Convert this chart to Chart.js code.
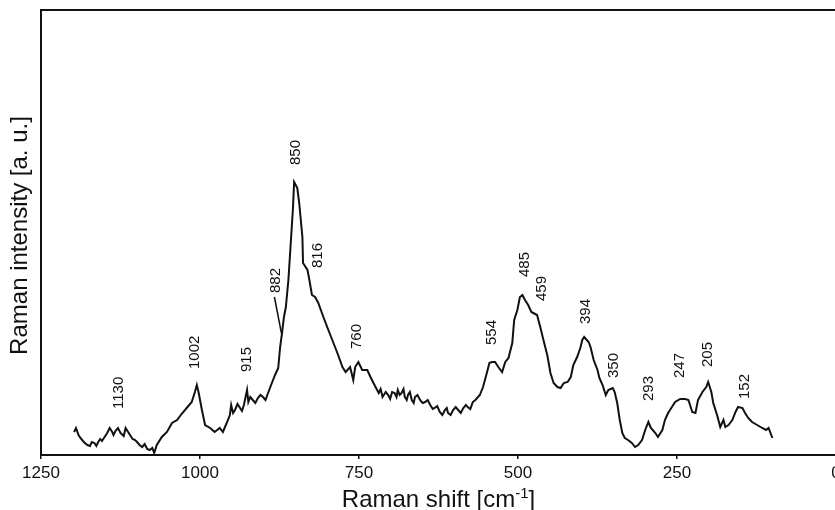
<!DOCTYPE html>
<html>
<head>
<meta charset="utf-8">
<script src="https://cdn.jsdelivr.net/npm/chart.js@4.4.1/dist/chart.umd.min.js"></script>
<style>
    html, body { margin: 0; padding: 0; background: #fff; overflow: hidden; }
    #wrap { position: relative; width: 845px; height: 510px; }
</style>
</head>
<body>
<div id="wrap"><canvas id="chart"></canvas></div>
<script>
// Raman spectrum, shift in cm-1 (high to low) and intensity in arbitrary units
const ramanShift = [
    1198, 1195, 1191, 1188, 1184, 1181, 1177, 1173, 1170, 1166, 1163, 1160, 1157, 1154, 1150, 1146,
    1142, 1138, 1136, 1133, 1129, 1125, 1120, 1117, 1114, 1110, 1106, 1102, 1099, 1095, 1091, 1087,
    1083, 1079, 1075, 1072, 1068, 1060, 1052, 1044, 1036, 1029, 1021, 1013, 1008, 1005, 1002, 997,
    992, 984, 977, 969, 964, 958, 953, 951, 948, 945, 941, 937, 934, 931, 926, 924,
    921, 917, 913, 909, 905, 901, 897, 893, 887, 882, 877, 874, 871, 868, 865, 861,
    858, 854, 852, 847, 844, 839, 838, 831, 828, 824, 819, 814, 806, 800, 792, 784,
    776, 771, 764, 759, 756, 751, 745, 737, 732, 724, 719, 716, 713, 708, 704, 701,
    698, 694, 691, 689, 686, 683, 680, 678, 675, 673, 670, 667, 664, 662, 658, 654,
    650, 646, 642, 638, 634, 631, 627, 623, 619, 615, 612, 610, 606, 602, 598, 594,
    590, 586, 582, 579, 575, 571, 567, 560, 555, 549, 545, 541, 536, 531, 525, 520,
    515, 509, 506, 501, 497, 493, 489, 484, 479, 476, 470, 465, 460, 454, 449, 444,
    438, 433, 428, 422, 417, 413, 407, 402, 399, 396, 389, 386, 381, 375, 372, 367,
    362, 358, 351, 348, 344, 340, 336, 332, 327, 321, 316, 311, 305, 300, 295, 291,
    284, 280, 273, 269, 264, 258, 253, 245, 237, 232, 226, 221, 217, 210, 204, 201,
    196, 193, 187, 182, 177, 174, 169, 163, 158, 154, 147, 143, 138, 132, 124, 116,
    110, 106, 103, 100
];
const intensity = [
    23, 27, 20, 17, 14, 12, 10, 9, 13, 12, 9, 13, 16, 14, 18, 22,
    27, 23, 20, 24, 27, 22, 19, 27, 24, 20, 16, 15, 13, 10, 8, 11,
    6, 5, 7, 2, 10, 18, 23, 32, 35, 41, 47, 53, 63, 70, 62, 45,
    30, 27, 23, 27, 23, 32, 40, 50, 42, 45, 51, 47, 44, 50, 65, 53,
    58, 55, 52, 57, 60, 58, 55, 62, 72, 80, 87, 108, 122, 138, 148, 175,
    205, 245, 273, 267, 252, 218, 192, 185, 175, 160, 158, 152, 138, 128, 115, 102,
    88, 83, 88, 75, 88, 93, 85, 85, 78, 68, 62, 66, 58, 63, 60, 56,
    63, 62, 58, 65, 60, 62, 66, 58, 55, 60, 63, 55, 52, 58, 60, 55,
    52, 53, 55, 50, 46, 47, 49, 43, 40, 45, 47, 42, 40, 45, 48, 45,
    42, 47, 50, 48, 46, 53, 55, 60, 68, 82, 92, 93, 93, 88, 83, 93,
    97, 112, 135, 145, 158, 160, 155, 150, 143, 142, 140, 128, 115, 100, 82, 72,
    68, 67, 72, 73, 78, 90, 98, 107, 115, 118, 113, 108, 95, 85, 77, 70,
    60, 65, 67, 63, 52, 35, 22, 17, 15, 12, 8, 10, 15, 25, 33, 27,
    22, 18, 25, 35, 42, 48, 53, 56, 56, 55, 43, 42, 55, 63, 68, 73,
    63, 52, 40, 28, 35, 28, 30, 35, 43, 48, 47, 42, 37, 33, 30, 27,
    25, 27, 22, 17
];

const xTicks = [1250, 1000, 750, 500, 250, 0];

// assigned band positions written above the peaks
const peakNames = ["1130", "1002", "915", "882", "850", "816", "760", "554",
                   "485", "459", "394", "350", "293", "247", "205", "152"];
// where each rotated label starts, [shift, intensity]; text runs upward
const peakLabelAt = [
    [1127, 46], [1008, 86], [926, 83], [880, 162], [850, 290], [814, 187], [753, 106], [541, 110],
    [489, 178], [463, 154], [394, 131], [349, 77], [295, 54], [245, 77], [201, 88], [143, 56]
];
// short leader from the 882 label to the shoulder
const leader882 = [[883, 158], [872, 122]];

const FONT = '"Liberation Sans", Arial, sans-serif';
const INK = "#111";

const framePlugin = {
    id: "frame",
    afterDatasetsDraw(chart) {
        const { ctx, chartArea: a } = chart;
        ctx.save();
        ctx.strokeStyle = INK;
        ctx.lineWidth = 2;
        ctx.strokeRect(a.left, a.top, a.right - a.left, a.bottom - a.top);
        ctx.restore();
    },
};

const peakLabelPlugin = {
    id: "peakLabels",
    afterDatasetsDraw(chart) {
        const { ctx } = chart;
        const xs = chart.scales.x, ys = chart.scales.y;
        ctx.save();
        ctx.fillStyle = INK;
        ctx.font = "15px " + FONT;
        ctx.textAlign = "left";
        ctx.textBaseline = "middle";
        peakNames.forEach((name, i) => {
            const [s, h] = peakLabelAt[i];
            ctx.save();
            ctx.translate(xs.getPixelForValue(s), ys.getPixelForValue(h));
            ctx.rotate(-Math.PI / 2);
            ctx.fillText(name, 0, 0);
            ctx.restore();
        });
        ctx.strokeStyle = INK;
        ctx.lineWidth = 1.5;
        ctx.beginPath();
        ctx.moveTo(xs.getPixelForValue(leader882[0][0]), ys.getPixelForValue(leader882[0][1]));
        ctx.lineTo(xs.getPixelForValue(leader882[1][0]), ys.getPixelForValue(leader882[1][1]));
        ctx.stroke();
        ctx.restore();
    },
};

const axisTitlePlugin = {
    id: "axisTitles",
    afterDraw(chart) {
        const { ctx, chartArea: a } = chart;
        ctx.save();
        ctx.fillStyle = INK;
        ctx.textBaseline = "alphabetic";

        // x title with superscript -1
        const big = "24px " + FONT, small = "15px " + FONT;
        const p1 = "Raman shift [cm", sup = "-1", p2 = "]";
        ctx.font = big;
        const w1 = ctx.measureText(p1).width, w3 = ctx.measureText(p2).width;
        ctx.font = small;
        const w2 = ctx.measureText(sup).width;
        let x = (a.left + a.right) / 2 - (w1 + w2 + w3) / 2;
        const base = 507;
        ctx.textAlign = "left";
        ctx.font = big;
        ctx.fillText(p1, x, base);
        x += w1;
        ctx.font = small;
        ctx.fillText(sup, x, base - 9);
        x += w2;
        ctx.font = big;
        ctx.fillText(p2, x, base);

        // y title
        ctx.translate(27, (a.top + a.bottom) / 2 + 3);
        ctx.rotate(-Math.PI / 2);
        ctx.textAlign = "center";
        ctx.font = big;
        ctx.fillText("Raman intensity [a. u.]", 0, 0);
        ctx.restore();
    },
};

new Chart(document.getElementById("chart"), {
    type: "line",
    data: {
        datasets: [{
            data: ramanShift.map((s, i) => ({ x: s, y: intensity[i] })),
            borderColor: INK,
            borderWidth: 2,
            pointRadius: 0,
            tension: 0,
            fill: false,
        }],
    },
    options: {
        responsive: true,
        maintainAspectRatio: false,
        animation: false,
        layout: { padding: { left: 41, top: 10, right: 9, bottom: 0 } },
        plugins: { legend: { display: false }, tooltip: { enabled: false } },
        scales: {
            x: {
                type: "linear",
                reverse: true,
                min: 0,
                max: 1250,
                afterBuildTicks: (scale) => { scale.ticks = xTicks.map(v => ({ value: v })); },
                afterFit: (scale) => { scale.height = 55; },
                grid: { drawOnChartArea: false, drawTicks: true, tickLength: 4, color: INK, lineWidth: 1.5 },
                border: { display: false },
                ticks: {
                    color: INK,
                    padding: 4,
                    maxRotation: 0,
                    font: { family: FONT, size: 17 },
                    callback: (v) => String(v),
                },
            },
            y: {
                display: false,
                min: 0,
                max: 445,
            },
        },
    },
    plugins: [framePlugin, peakLabelPlugin, axisTitlePlugin],
});
</script>
</body>
</html>
